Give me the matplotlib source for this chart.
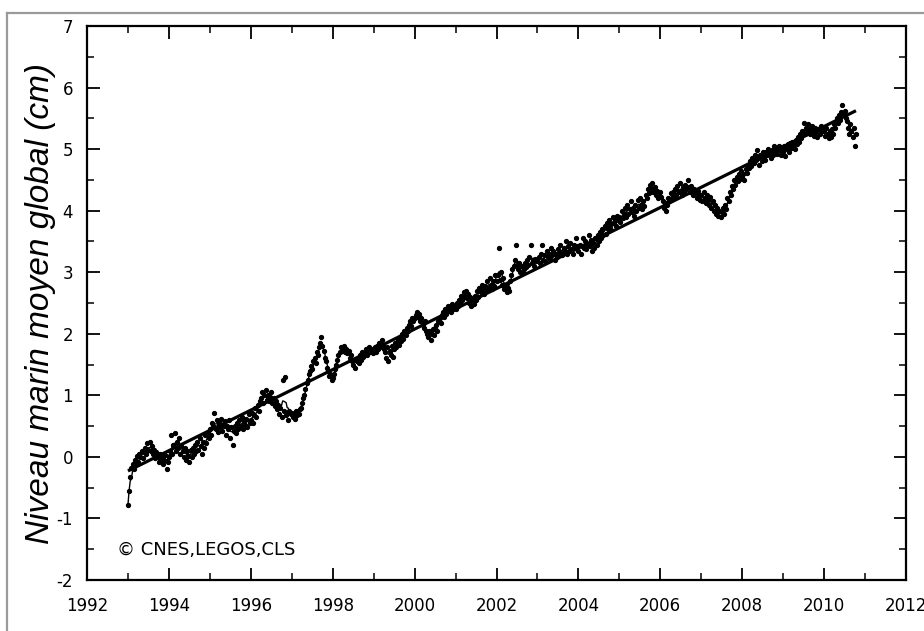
import numpy as np
import pandas as pd
import matplotlib
matplotlib.use("Agg")
import matplotlib.pyplot as plt
from matplotlib.ticker import MultipleLocator
from matplotlib.lines import Line2D

plt.rcParams["axes.unicode_minus"] = False

# ~10-day global mean sea level values (cm), one list per year
gmsl_by_year = {
    1993: [-0.78, -0.55, -0.32, -0.18, -0.12, -0.2, -0.05, -0.1, 0.02, -0.08, 0.05, 0.0, 0.1, -0.02, 0.08, 0.15, 0.05, 0.22,
           0.12, 0.25, 0.1, 0.18, 0.05, 0.12, -0.02, 0.08, 0.0, -0.08, 0.05, -0.05, 0.02, -0.12, -0.05, 0.03, -0.2, -0.08],
    1994: [0.0, 0.1, 0.35, 0.05, 0.2, 0.38, 0.1, 0.25, 0.15, 0.3, 0.05, 0.18, 0.1, 0.0, 0.15, -0.05, 0.1, 0.02,
           -0.08, 0.12, 0.0, 0.15, 0.05, 0.2, 0.1, 0.25, 0.12, 0.3, 0.18, 0.05, 0.25, 0.15, 0.35, 0.22, 0.4, 0.3],
    1995: [0.45, 0.35, 0.55, 0.5, 0.72, 0.45, 0.6, 0.4, 0.55, 0.48, 0.62, 0.42, 0.5, 0.58, 0.35, 0.5, 0.45, 0.6,
           0.3, 0.48, 0.2, 0.42, 0.5, 0.38, 0.55, 0.45, 0.6, 0.5, 0.65, 0.45, 0.58, 0.52, 0.62, 0.48, 0.7, 0.55],
    1996: [0.6, 0.72, 0.55, 0.68, 0.8, 0.65, 0.85, 0.75, 0.9, 0.95, 1.05, 0.88, 1.0, 1.08, 0.92, 1.0, 0.9, 0.98,
           1.05, 0.88, 0.95, 0.82, 0.9, 0.78, 0.85, 0.7, 0.8, 0.65, 1.25, 0.75, 1.3, 0.68, 0.72, 0.6, 0.75, 0.7],
    1997: [0.72, 0.65, 0.7, 0.62, 0.75, 0.68, 0.7, 0.78, 0.8, 0.88, 0.95, 1.0, 1.1, 1.2, 1.25, 1.35, 1.4, 1.48,
           1.42, 1.55, 1.6, 1.52, 1.7, 1.65, 1.78, 1.85, 1.95, 1.8, 1.72, 1.6, 1.55, 1.45, 1.4, 1.32, 1.35, 1.25],
    1998: [1.28, 1.35, 1.42, 1.5, 1.58, 1.65, 1.7, 1.78, 1.72, 1.75, 1.8, 1.7, 1.75, 1.68, 1.72, 1.6, 1.65, 1.55,
           1.5, 1.58, 1.45, 1.55, 1.6, 1.52, 1.65, 1.58, 1.7, 1.62, 1.68, 1.75, 1.65, 1.72, 1.78, 1.7, 1.75, 1.68],
    1999: [1.72, 1.78, 1.7, 1.8, 1.75, 1.85, 1.78, 1.9, 1.82, 1.75, 1.7, 1.6, 1.78, 1.55, 1.72, 1.65, 1.8, 1.62,
           1.75, 1.85, 1.78, 1.9, 1.82, 1.95, 1.88, 2.0, 1.92, 2.05, 1.98, 2.1, 2.05, 2.15, 2.2, 2.12, 2.25, 2.2],
    2000: [2.25, 2.3, 2.35, 2.28, 2.32, 2.2, 2.25, 2.15, 2.1, 2.2, 2.05, 2.0, 1.95, 2.05, 1.9, 2.0, 2.08, 1.98,
           2.1, 2.15, 2.05, 2.2, 2.25, 2.18, 2.3, 2.35, 2.28, 2.4, 2.32, 2.45, 2.38, 2.42, 2.35, 2.48, 2.4, 2.45],
    2001: [2.4, 2.5, 2.45, 2.55, 2.5, 2.62, 2.55, 2.68, 2.6, 2.7, 2.58, 2.65, 2.5, 2.6, 2.45, 2.55, 2.48, 2.62,
           2.55, 2.7, 2.6, 2.75, 2.68, 2.8, 2.72, 2.65, 2.78, 2.7, 2.85, 2.75, 2.9, 2.8, 2.72, 2.85, 2.78, 2.95],
    2002: [2.85, 2.95, 3.4, 2.88, 3.0, 2.8, 2.9, 2.72, 2.8, 2.68, 2.75, 2.7, 2.85, 2.95, 3.05, 3.1, 3.2, 3.45,
           3.12, 3.05, 3.15, 3.0, 3.1, 2.98, 3.05, 3.15, 3.08, 3.2, 3.12, 3.25, 3.45, 3.15, 3.2, 3.1, 3.22, 3.18],
    2003: [3.2, 3.25, 3.15, 3.3, 3.45, 3.2, 3.28, 3.18, 3.35, 3.25, 3.3, 3.22, 3.4, 3.28, 3.35, 3.2, 3.3, 3.25,
           3.38, 3.3, 3.45, 3.32, 3.28, 3.4, 3.35, 3.5, 3.3, 3.42, 3.35, 3.48, 3.38, 3.3, 3.45, 3.4, 3.55, 3.42],
    2004: [3.35, 3.45, 3.3, 3.42, 3.55, 3.4, 3.5, 3.38, 3.45, 3.6, 3.42, 3.52, 3.35, 3.48, 3.4, 3.55, 3.45, 3.6,
           3.5, 3.65, 3.55, 3.7, 3.6, 3.75, 3.62, 3.8, 3.7, 3.85, 3.72, 3.78, 3.9, 3.8, 3.85, 3.75, 3.92, 3.85],
    2005: [3.9, 3.82, 4.0, 3.88, 3.95, 4.05, 3.9, 4.1, 3.95, 4.02, 4.15, 3.98, 4.05, 3.92, 4.1, 4.0, 4.18, 4.05,
           4.2, 4.1, 4.02, 4.15, 4.08, 4.25, 4.2, 4.35, 4.28, 4.42, 4.35, 4.45, 4.3, 4.38, 4.25, 4.32, 4.2, 4.28],
    2006: [4.3, 4.22, 4.15, 4.05, 4.12, 4.0, 4.1, 4.2, 4.15, 4.28, 4.2, 4.3, 4.22, 4.35, 4.25, 4.4, 4.3, 4.45,
           4.32, 4.25, 4.38, 4.3, 4.42, 4.35, 4.5, 4.38, 4.3, 4.4, 4.32, 4.25, 4.35, 4.28, 4.2, 4.32, 4.25, 4.18],
    2007: [4.25, 4.15, 4.3, 4.2, 4.12, 4.25, 4.18, 4.1, 4.22, 4.05, 4.15, 4.0, 4.1, 3.95, 4.05, 3.92, 4.0, 3.9,
           3.98, 4.05, 3.95, 4.1, 4.02, 4.2, 4.15, 4.3, 4.25, 4.4, 4.35, 4.5, 4.42, 4.55, 4.48, 4.6, 4.52, 4.65],
    2008: [4.55, 4.6, 4.5, 4.68, 4.62, 4.75, 4.7, 4.8, 4.72, 4.85, 4.78, 4.9, 4.82, 4.98, 4.85, 4.75, 4.9, 4.8,
           4.95, 4.88, 4.82, 4.95, 4.9, 5.0, 4.92, 4.85, 4.98, 4.9, 5.05, 4.95, 5.0, 4.92, 5.05, 4.98, 4.9, 5.02],
    2009: [4.95, 5.05, 4.88, 5.0, 5.08, 4.95, 5.1, 5.02, 5.12, 5.05, 5.0, 5.15, 5.08, 5.2, 5.12, 5.25, 5.18, 5.3,
           5.42, 5.25, 5.35, 5.28, 5.4, 5.32, 5.25, 5.38, 5.3, 5.22, 5.35, 5.28, 5.2, 5.32, 5.25, 5.38, 5.3, 5.35],
    2010: [5.3, 5.22, 5.35, 5.25, 5.18, 5.3, 5.2, 5.32, 5.25, 5.4, 5.35, 5.5, 5.42, 5.55, 5.48, 5.6, 5.72, 5.55,
           5.62, 5.5, 5.45, 5.35, 5.25, 5.4, 5.3, 5.2, 5.35, 5.05, 5.25],
}
samples_per_year = 36

x_ticks = [1992, 1994, 1996, 1998, 2000, 2002, 2004, 2006, 2008, 2010, 2012]
y_ticks = [-2, -1, 0, 1, 2, 3, 4, 5, 6, 7]
y_label = "Niveau marin moyen global (cm)"
credit = "© CNES,LEGOS,CLS"

# assemble time series
times, values = [], []
for yr, vals in gmsl_by_year.items():
    for i, v in enumerate(vals):
        times.append(yr + i / samples_per_year)
        values.append(v)
times = np.array(times)
values = np.array(values)
smooth = pd.Series(values).rolling(6, center=True, min_periods=1).mean().to_numpy()
smooth[:2] = values[:2]
coef = np.polyfit(times, values, 1)
trend = np.polyval(coef, times)

fig = plt.figure(figsize=(9.24, 6.31), dpi=100)
ax = fig.add_axes([87 / 924, 51 / 631, 819 / 924, 554 / 631])

ax.plot(times, trend, color="black", lw=2.3, zorder=3, solid_capstyle="butt")
ax.plot(times, smooth, color="black", lw=1.0, zorder=2)
ax.plot(times, values, ls="none", marker="o", ms=2.8, mfc="black", mec="black", zorder=2)

ax.set_xlim(1992, 2012)
ax.set_ylim(-2, 7)
ax.set_xticks(x_ticks)
ax.set_yticks(y_ticks)
ax.xaxis.set_minor_locator(MultipleLocator(1))
ax.yaxis.set_minor_locator(MultipleLocator(0.5))
ax.tick_params(which="both", direction="in", top=True, right=True, color="black")
ax.tick_params(which="major", length=9, width=1.3)
ax.tick_params(which="minor", length=5, width=1.1)
ax.tick_params(axis="x", labelsize=12, pad=12)
ax.tick_params(axis="y", labelsize=12, pad=10)
for s in ax.spines.values():
    s.set_linewidth(1.6)

ax.set_ylabel(y_label, fontsize=24, style="italic", family="Liberation Sans")
ax.yaxis.set_label_coords(-31 / 819, 0.5)
ax.text(0.037, 0.055, credit, transform=ax.transAxes, fontsize=13, ha="left", va="center")

# outer frame of the figure
fig.add_artist(Line2D([7 / 924, 7 / 924], [0, 1 - 12.5 / 631], transform=fig.transFigure, color="#9a9a9a", lw=1.6))
fig.add_artist(Line2D([7 / 924, 1.0], [1 - 12.5 / 631, 1 - 12.5 / 631], transform=fig.transFigure, color="#9a9a9a", lw=1.6))

fig.savefig("out.png", dpi=100)
